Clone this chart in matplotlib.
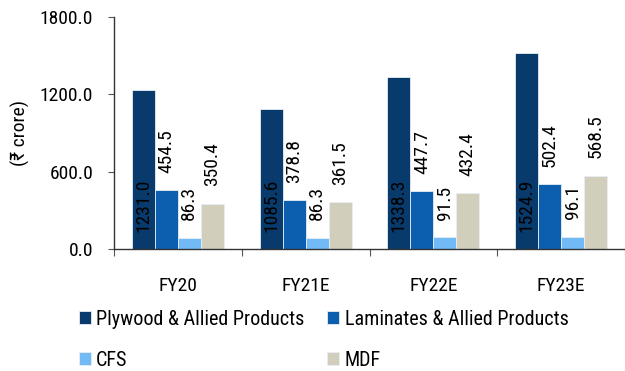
import numpy as np
import matplotlib
matplotlib.use('Agg')
import matplotlib.pyplot as plt
from matplotlib import font_manager

# narrow face if available, DejaVu for the rupee sign
names = {f.name for f in font_manager.fontManager.ttflist}
narrow = [n for n in ['Roboto Condensed', 'Liberation Sans Narrow', 'DejaVu Sans Condensed'] if n in names]
plt.rcParams['font.family'] = narrow[:1] + ['DejaVu Sans']

years = ['FY20', 'FY21E', 'FY22E', 'FY23E']
series = ['Plywood & Allied Products', 'Laminates & Allied Products', 'CFS', 'MDF']
plywood = [1231.0, 1085.6, 1338.3, 1524.9]
laminates = [454.5, 378.8, 447.7, 502.4]
cfs = [86.3, 86.3, 91.5, 96.1]
mdf = [350.4, 361.5, 432.4, 568.5]
colors = ['#083A6B', '#0B5FAE', '#72BAF6', '#D1CEBC']

values = [plywood, laminates, cfs, mdf]

fig = plt.figure(figsize=(6.25, 3.71), dpi=100)
ax = fig.add_axes([0.1824, 0.329, 0.8176, 0.625])

x = np.arange(len(years))
w = 0.18
fs = 14
handles = []
for i, (vals, name, c) in enumerate(zip(values, series, colors)):
    pos = x + (i - 1.5) * w
    b = ax.bar(pos, vals, w, color=c, edgecolor='#E6EEF5', linewidth=0.6, label=name)
    handles.append(b)
    for p, v in zip(pos, vals):
        if i == 0:
            # first series labelled inside the base
            ax.annotate(f'{v:.1f}', (p, 0), xytext=(0, 12), textcoords='offset points',
                        rotation=90, ha='center', va='bottom', fontsize=fs)
        else:
            ax.annotate(f'{v:.1f}', (p, v), xytext=(0, 12.5), textcoords='offset points',
                        rotation=90, ha='center', va='bottom', fontsize=fs)

ax.set_xlim(-0.5, 3.5)
ax.set_ylim(0, 1800)
ax.set_yticks([0, 600, 1200, 1800])
ax.set_yticklabels([f'{t:.1f}' for t in [0, 600, 1200, 1800]], fontsize=fs)
ax.set_ylabel('(₹ crore)', fontsize=fs, labelpad=7)

# category ticks between the groups, labels centred under them
ax.set_xticks(np.arange(-0.5, 4, 1))
ax.set_xticklabels([])
ax.set_xticks(x, minor=True)
ax.set_xticklabels(years, minor=True, fontsize=fs)
ax.tick_params(axis='x', which='minor', length=0, pad=20)
ax.tick_params(axis='x', which='major', length=5, color='#555555')
ax.tick_params(axis='y', length=4, pad=11, color='#555555')

for s in ['top', 'right']:
    ax.spines[s].set_visible(False)
for s in ['left', 'bottom']:
    ax.spines[s].set_color('#333333')
    ax.spines[s].set_linewidth(1.0)

# legend filled row by row: Plywood, Laminates / CFS, MDF
order = [0, 2, 1, 3]
fig.legend([handles[k] for k in order], [series[k] for k in order],
           loc='upper left', bbox_to_anchor=(0.126, 0.165), ncol=2, frameon=False,
           fontsize=14.5, handlelength=0.6, handleheight=0.6, handletextpad=0.25,
           columnspacing=1.15, labelspacing=1.1, borderaxespad=0, borderpad=0)

fig.savefig('out.png', dpi=100)
